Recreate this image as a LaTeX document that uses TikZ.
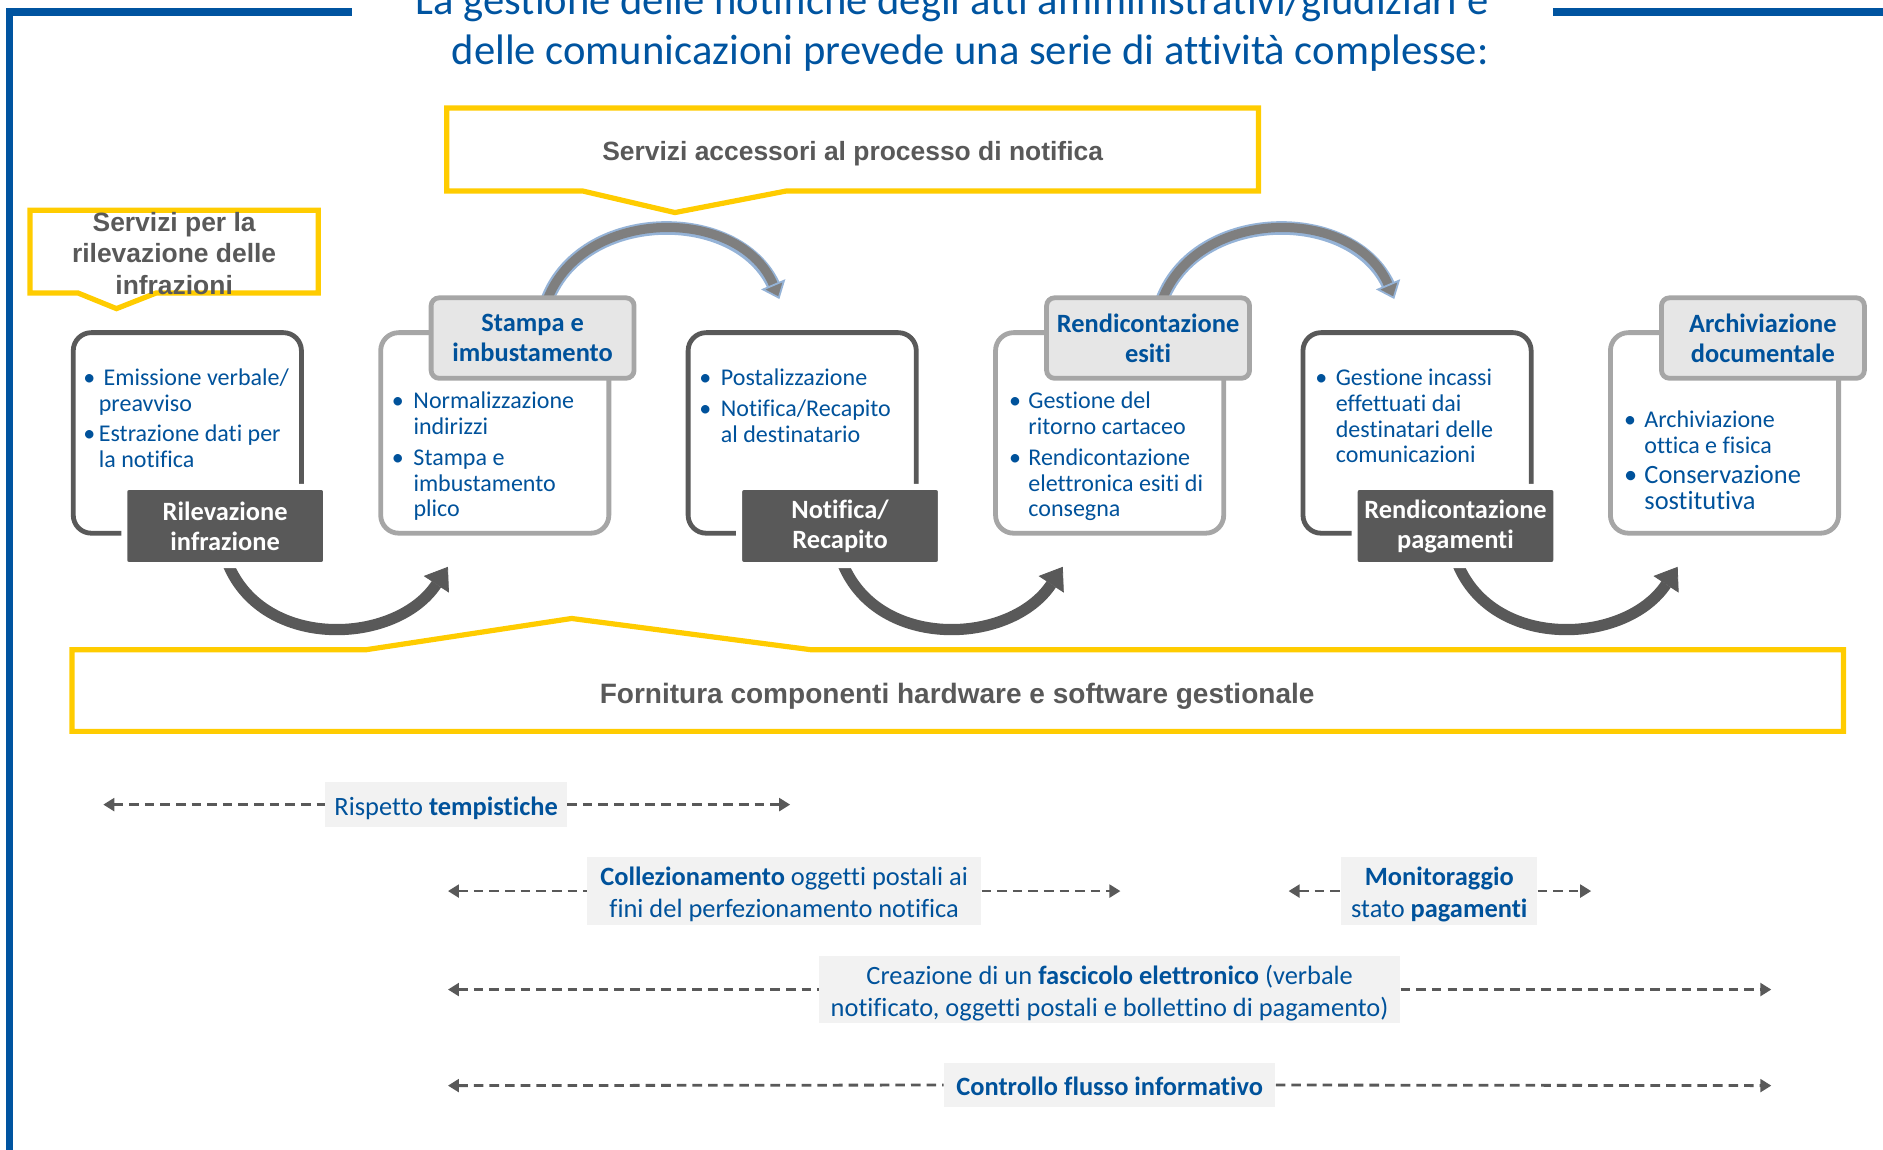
\documentclass[tikz,border=0pt]{standalone}
\usepackage{fontspec}
\setmainfont{Carlito}[Ligatures={NoCommon}]
\newfontfamily\callfont{Liberation Sans}
\usetikzlibrary{arrows.meta}
\definecolor{fblue}{RGB}{0,84,160}
\definecolor{tblue}{RGB}{0,82,155}
\definecolor{cyel}{RGB}{255,204,0}
\definecolor{dgray}{RGB}{89,89,89}
\definecolor{lgray}{RGB}{166,166,166}
\definecolor{lfill}{RGB}{230,230,230}
\definecolor{agray}{RGB}{127,127,127}
\definecolor{aedge}{RGB}{149,179,215}
\definecolor{bfill}{RGB}{242,242,242}
\definecolor{ctext}{RGB}{89,89,89}
\newcommand\mybul[1]{\makebox[#1][l]{•}}
\newcommand\lowr[1]{\raisebox{-2.1pt}[\height][\depth]{\begin{tabular}{@{}c@{}}#1\end{tabular}}}
\begin{document}
\begin{tikzpicture}[x=0.6pt,y=-0.6pt,
 sz/.style 2 args={minimum width=#1*0.6pt,minimum height=#2*0.6pt},
 callout/.style={draw=cyel,line width=2.6pt,fill=white,line join=miter},
 calltext/.style={font=\callfont\bfseries\fontsize{13.2}{15.9}\selectfont,text=ctext,align=center,inner sep=0},
 bodydark/.style={draw=dgray,line width=2.4pt,rounded corners=9pt,fill=white,inner sep=0},
 bodylight/.style={draw=lgray,line width=2.4pt,rounded corners=9pt,fill=white,inner sep=0},
 labdark/.style={fill=dgray,draw=white,line width=3pt,rounded corners=2pt,text=white,font=\bfseries\fontsize{13.2}{15}\selectfont,align=center,inner sep=0},
 lablight/.style={fill=lfill,draw=lgray,line width=2.4pt,rounded corners=4pt,text=tblue,font=\bfseries\fontsize{13.2}{15}\selectfont,align=center,inner sep=0},
 btext/.style={anchor=base west,inner sep=0,text=tblue,font=\fontsize{12}{12.9}\selectfont},
 dline/.style={draw=dgray,line width=1.4pt,dash pattern=on 4.8pt off 3pt},
 larr/.style={{Triangle[length=5.5pt,width=6.4pt]}-},
 rarr/.style={-{Triangle[length=5.5pt,width=6.4pt]}},
 bbox/.style={fill=bfill,text=tblue,font=\fontsize{13.2}{16.2}\selectfont,align=center,inner sep=0},
 toparrow/.style={agray,line width=4.6pt,-{Triangle[width=13pt,length=8pt,fill=agray,color=aedge,line width'=0.9pt]}},
 topedge/.style={aedge,line width=6.8pt,shorten >=6pt},
 botarrow/.style={dgray,line width=5.6pt,-{Triangle[width=15pt,length=10.5pt,line width'=0.4pt]}}
]
\useasboundingbox (0,0) rectangle (1568,957);

% frame
\draw[fblue,line width=3.6pt] (293,10) -- (8,10) -- (8,965);
\draw[fblue,line width=3.6pt] (1293,10) -- (1575,10);

% title
\node[anchor=base east,inner sep=0,text=fblue,font=\fontsize{21.3}{25}\selectfont] (title1) at (1240,12) {La gestione delle notifiche degli atti amministrativi/giudiziari e};
\node[anchor=base east,inner sep=0,text=fblue,font=\fontsize{21.3}{25}\selectfont] (title2) at (1240,54) {delle comunicazioni prevede una serie di attività complesse:};

% callouts
\draw[callout] (372,90) -- (1048,90) -- (1048,159) -- (655,159) -- (562,177) -- (485,159) -- (372,159) -- cycle;
\node[calltext] (cTop) at (710,128) {Servizi accessori al processo di notifica};
\draw[callout] (25,175) -- (265,175) -- (265,244) -- (130,244) -- (97,257) -- (65,244) -- (25,244) -- cycle;
\draw[callout] (60,541) -- (305,541) -- (476,515) -- (675,541) -- (1535,541) -- (1535,609) -- (60,609) -- cycle;
\node[calltext,font=\callfont\bfseries\fontsize{14}{16}\selectfont] (cBot) at (797,580) {Fornitura componenti hardware e software gestionale};

% top arrows
\coordinate (t1s) at (452,262); \coordinate (t1e) at (649,249);
\coordinate (t2s) at (964,262); \coordinate (t2e) at (1161,249);
\draw[topedge] (t1s) .. controls (472,172) and (615,168) .. (t1e);
\draw[toparrow] (t1s) .. controls (472,172) and (615,168) .. (t1e);
\draw[topedge] (t2s) .. controls (984,172) and (1127,168) .. (t2e);
\draw[toparrow] (t2s) .. controls (984,172) and (1127,168) .. (t2e);

% bottom arrows
\coordinate (u1s) at (190,470); \coordinate (u1e) at (373,472);
\coordinate (u2s) at (702,470); \coordinate (u2e) at (885,472);
\coordinate (u3s) at (1214,470); \coordinate (u3e) at (1397,472);
\draw[botarrow] (u1s) .. controls (220,542) and (330,537) .. (u1e);
\draw[botarrow] (u2s) .. controls (732,542) and (842,537) .. (u2e);
\draw[botarrow] (u3s) .. controls (1244,542) and (1354,537) .. (u3e);

% bodies
\node[bodydark,sz={190}{167}] (body1) at (156,360.5) {};
\node[bodylight,sz={190}{167}] (body2) at (412,360.5) {};
\node[bodydark,sz={190}{167}] (body3) at (668,360.5) {};
\node[bodylight,sz={190}{167}] (body4) at (924,360.5) {};
\node[bodydark,sz={190}{167}] (body5) at (1180,360.5) {};
\node[bodylight,sz={190}{167}] (body6) at (1436,360.5) {};

% labels
\node[labdark,sz={168}{65}] (lab1) at (187.5,438) {Rilevazione\\infrazione};
\node[lablight,sz={169}{67}] (lab2) at (443.5,281.5) {Stampa e\\imbustamento};
\node[labdark,sz={168}{65}] (lab3) at (699.5,438) {Notifica/\\Recapito};
\node[lablight,sz={169}{67}] (lab4) at (956,281.5) {Rendicontazione\\esiti};
\node[labdark,sz={168}{65}] (lab5) at (1212,438) {Rendicontazione\\pagamenti};
\node[lablight,sz={169}{67}] (lab6) at (1468,281.5) {Archiviazione\\documentale};

% body texts
\node[btext] (txt1) at (69,321) {\begin{tabular}[t]{@{}l@{}l@{}}
\mybul{7.8pt}&\hspace{2.4pt}Emissione verbale/\\
&preavviso\\[2.1pt]
\mybul{7.8pt}&Estrazione dati per\\
&la notifica
\end{tabular}};
\node[btext] (txt2) at (326,340) {\begin{tabular}[t]{@{}l@{}l@{}}
\mybul{10.8pt}&Normalizzazione\\
&indirizzi\\[2.7pt]
\mybul{10.8pt}&Stampa e\\
&imbustamento\\
&plico
\end{tabular}};
\node[btext] (txt3) at (582,321) {\begin{tabular}[t]{@{}l@{}l@{}}
\mybul{10.8pt}&Postalizzazione\\[2.7pt]
\mybul{10.8pt}&Notifica/Recapito\\
&al destinatario
\end{tabular}};
\node[btext] (txt4) at (840,340) {\begin{tabular}[t]{@{}l@{}l@{}}
\mybul{9.6pt}&Gestione del\\
&ritorno cartaceo\\[2.7pt]
\mybul{9.6pt}&Rendicontazione\\
&elettronica esiti di\\
&consegna
\end{tabular}};
\node[btext] (txt5) at (1095,321) {\begin{tabular}[t]{@{}l@{}l@{}}
\mybul{10.2pt}&Gestione incassi\\
&effettuati dai\\
&destinatari delle\\
&comunicazioni
\end{tabular}};
\node[btext] (txt6) at (1352,356) {\begin{tabular}[t]{@{}l@{}l@{}}
\mybul{10.2pt}&Archiviazione\\
&ottica e fisica\\[2.1pt]
{\fontsize{13.2}{13}\selectfont\mybul{10.2pt}}&{\fontsize{13.2}{13}\selectfont Conservazione}\\
&{\fontsize{13.2}{13}\selectfont sostitutiva}
\end{tabular}};

% dashed arrows with boxes
\node[bbox,sz={201}{38}] (bx1) at (371.5,670) {\lowr{Rispetto \textbf{tempistiche}}};
\coordinate (d1l) at (86,670); \coordinate (d1r) at (658,670);
\draw[dline,larr] (d1l) -- (bx1.west);
\draw[dline,rarr] (bx1.east) -- (d1r);

\node[bbox,sz={328}{56}] (bx2) at (653,742) {\lowr{\textbf{Collezionamento} oggetti postali ai\\fini del perfezionamento notifica}};
\coordinate (d2l) at (373,742); \coordinate (d2r) at (933,742);
\draw[dline,larr] (d2l) -- (bx2.west);
\draw[dline,rarr] (bx2.east) -- (d2r);

\node[bbox,sz={163}{56}] (bx3) at (1198.5,742) {\lowr{\textbf{Monitoraggio}\\stato \textbf{pagamenti}}};
\coordinate (d3l) at (1073,742); \coordinate (d3r) at (1325,742);
\draw[dline,larr] (d3l) -- (bx3.west);
\draw[dline,rarr] (bx3.east) -- (d3r);

\node[bbox,sz={484}{56}] (bx4) at (924,824) {\lowr{Creazione di un \textbf{fascicolo elettronico} (verbale\\notificato, oggetti postali e bollettino di pagamento)}};
\coordinate (d4l) at (373,824); \coordinate (d4r) at (1475,824);
\draw[dline,larr] (d4l) -- (bx4.west);
\draw[dline,rarr] (bx4.east) -- (d4r);

\node[bbox,sz={276}{37}] (bx5) at (924,903.5) {\lowr{\textbf{Controllo flusso informativo}}};
\coordinate (d5l) at (373,904); \coordinate (d5r) at (1475,904);
\draw[dline,larr] (d5l) -- (bx5.west);
\draw[dline,rarr] (bx5.east) -- (d5r);

% left callout text (on top of border)
\node[calltext] (cLeft) at (145,211) {Servizi per la\\rilevazione delle\\infrazioni};
\end{tikzpicture}
\end{document}
